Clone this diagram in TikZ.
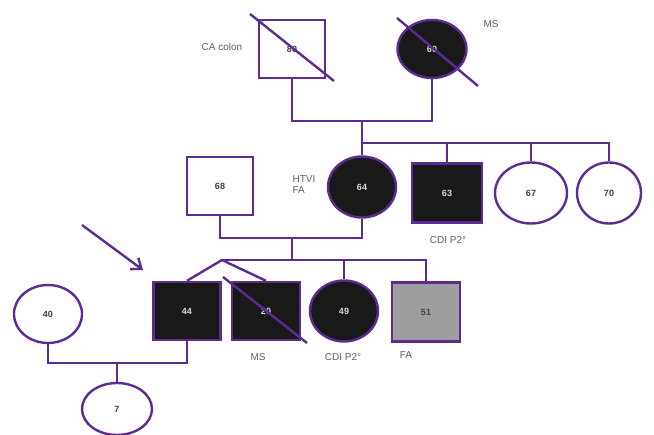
\documentclass[tikz,border=0pt]{standalone}
\usepackage{fontspec}
\setmainfont{Liberation Sans}
\usetikzlibrary{shapes.geometric,arrows.meta}
\definecolor{ped}{RGB}{92,44,146}
\definecolor{lbl}{RGB}{95,95,95}
\definecolor{affgray}{RGB}{158,158,158}
\tikzset{
  line/.style={draw=ped,line width=2.4pt},
  male/.style={rectangle,draw=ped,line width=2.4pt,fill=white,minimum width=66pt,minimum height=58pt,inner sep=0pt,font=\bfseries\fontsize{9}{10}\selectfont,text=black!75},
  female/.style={ellipse,draw=ped,line width=2.4pt,fill=white,minimum width=68pt,minimum height=60pt,inner sep=0pt,font=\bfseries\fontsize{9}{10}\selectfont,text=black!75},
  aff/.style={fill=black!90,text=white!85!black},
  note/.style={text=lbl,font=\fontsize{10}{11}\selectfont,inner sep=0pt},
  strike/.style={draw=ped,line width=2.4pt}
}
\begin{document}
\begin{tikzpicture}[x=1pt,y=-1pt]
\useasboundingbox (0,0) rectangle (654,435);
% generation I
\node[male] (m80) at (292,49) {80};
\node[female,aff,minimum width=69pt,minimum height=58pt] (f60) at (432,49) {60};
\coordinate (s80a) at (250,14); \coordinate (s80b) at (334,81);
\draw[strike] (s80a) -- (s80b);
\coordinate (s60a) at (397,18); \coordinate (s60b) at (478,86);
\draw[strike] (s60a) -- (s60b);
\node[note] (lca) at (222,47) {CA colon};
\node[note] (lms1) at (491,24) {MS};
% generation II
\node[male] (m68) at (220,186) {68};
\node[female,aff,minimum height=61pt] (f64) at (362,187) {64};
\node[male,aff,minimum width=70pt,minimum height=59pt] (m63) at (447,193) {63};
\node[female,minimum width=72pt,minimum height=61pt] (f67) at (531,193) {67};
\node[female,minimum width=64pt,minimum height=61pt] (f70) at (609,193) {70};
\node[note,align=left] (lhtvi) at (304,185) {HTVI\\FA};
\node[note] (lcdi1) at (448,240) {CDI P2°};
% generation III
\node[male,aff,minimum width=67pt] (m44) at (187,311) {44};
\node[male,aff,minimum width=68pt] (m20) at (266,311) {20};
\coordinate (s20a) at (223,277); \coordinate (s20b) at (307,343);
\draw[strike] (s20a) -- (s20b);
\node[female,aff,minimum height=61pt] (f49) at (344,311) {49};
\node[male,fill=affgray,minimum width=68pt,minimum height=59pt] (m51) at (426,312) {51};
\node[female,minimum height=58pt] (f40) at (48,314) {40};
\node[note] (lms2) at (258,357) {MS};
\node[note] (lcdi2) at (343,357) {CDI P2°};
\node[note] (lfa) at (406,355) {FA};
% generation IV
\node[female,minimum width=70pt,minimum height=52pt] (f7) at (117,409) {7};
% connectors
\coordinate (mar1) at (362,121);
\coordinate (sib1) at (362,143);
\draw[line] (m80.south) |- (mar1);
\draw[line] (f60.south) |- (mar1);
\draw[line] (mar1) -- (sib1);
\draw[line] (f64.north) -- (sib1) -| (f70.north);
\draw[line] (sib1) -| (m63.north);
\draw[line] (sib1) -| (f67.north);
\coordinate (mar2) at (292,238);
\coordinate (sib2) at (292,260);
\coordinate (tw) at (222,260);
\draw[line] (m68.south) |- (mar2);
\draw[line] (f64.south) |- (mar2);
\draw[line] (mar2) -- (sib2);
\draw[line] (tw) -| (m51.north);
\draw[line] (sib2) -| (f49.north);
\draw[line,line join=round] (m44.north) -- (tw) -- (m20.north);
\coordinate (mar3) at (117,363);
\draw[line] (f40.south) |- (mar3);
\draw[line] (m44.south) |- (mar3);
\draw[line] (mar3) -- (f7.north);
% proband arrow
\coordinate (arrS) at (82,225);
\coordinate (arrE) at (143,270);
\draw[line,-{Straight Barb[length=9pt,width=14pt]}] (arrS) -- (arrE);
\end{tikzpicture}
\end{document}
